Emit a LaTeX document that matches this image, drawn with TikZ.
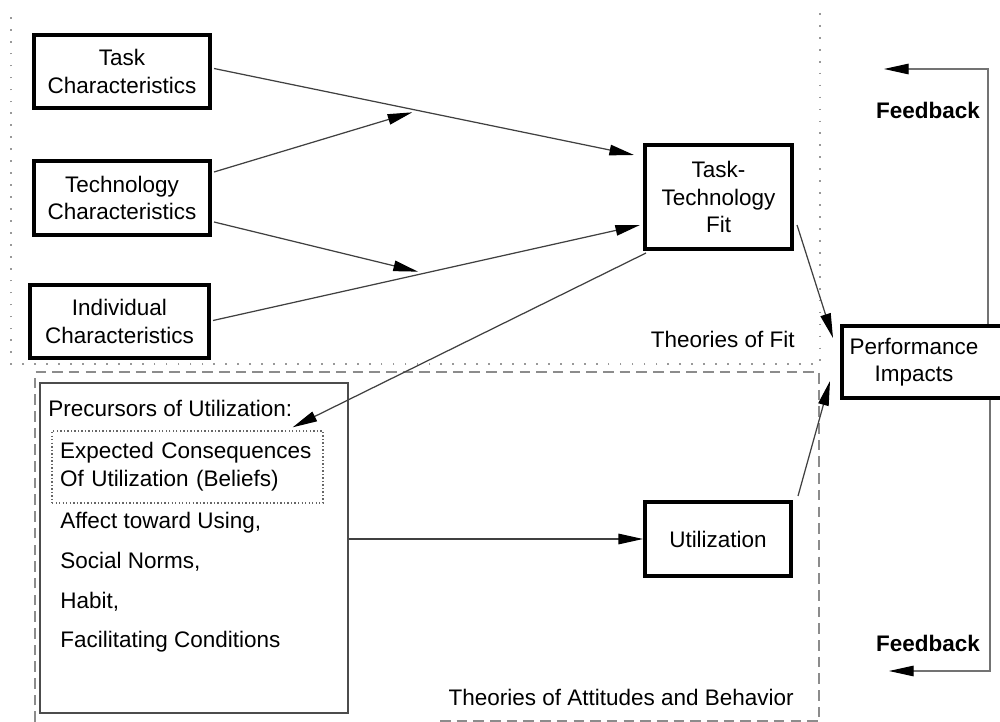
\documentclass[tikz,border=0pt]{standalone}
\usepackage{fontspec}
\setmainfont{Liberation Sans}
\usetikzlibrary{arrows.meta,calc}
\begin{document}
\begin{tikzpicture}[x=0.02cm,y=-0.02cm,
  every node/.style={font=\fontsize{12.8}{15.5}\selectfont},
  bigbox/.style={draw=black, line width=2.3pt, rectangle, align=center, inner sep=0pt},
  arr/.style={draw=black!75, line width=0.7pt, -{Triangle[length=14pt,width=6pt,color=black]}},
  fb/.style={draw=black!55, line width=0.6pt, -{Triangle[length=14pt,width=6pt,color=black]}},
  regiondots/.style={draw=black!40, line width=1pt, dash pattern=on 1pt off 5.8pt},
  regiondash/.style={draw=black!45, line width=0.9pt, dash pattern=on 6pt off 3.5pt},
  item/.style={anchor=base west, inner sep=0pt},
  fbtext/.style={font=\fontsize{12.8}{15}\selectfont\bfseries},
]
\useasboundingbox (0,0) rectangle (1000,722);
\clip (0,0) rectangle (1000,722);
\fill[white] (0,0) rectangle (1000,722);

% theory regions
\draw[regiondots] (820,13) -- (820,364) -- (11,364) -- (11,13);
\draw[regiondash] (35,722) -- (35,372) -- (819,372) -- (819,722);
\draw[regiondash] (440,721) -- (819,721);
\node[item, anchor=base east] (fitlabel) at (795,348) {Theories of Fit};
\node[item, anchor=base east] (attlabel) at (794,705) {Theories of Attitudes and Behavior};

% main constructs
\node[bigbox, minimum width=3.52cm, minimum height=1.46cm] (task) at (122,71.5) {Task\\Characteristics};
\node[bigbox, minimum width=3.52cm, minimum height=1.48cm] (tech) at (122,198) {Technology\\Characteristics};
\node[bigbox, minimum width=3.58cm, minimum height=1.46cm] (indiv) at (119.5,321.5) {Individual\\Characteristics};
\node[bigbox, minimum width=2.94cm, minimum height=2.08cm] (ttf) at (718.5,197) {Task-\\Technology\\Fit};
\node[bigbox, minimum width=2.92cm, minimum height=1.48cm] (util) at (718,539) {Utilization};
\node[bigbox, minimum width=3.4cm, minimum height=1.44cm] (perf) at (927,362) {};
\node[align=center, inner sep=0pt] (perftext) at (914,362) {Performance\\Impacts};

% precursors of utilization
\node[draw=black!70, line width=0.8pt, minimum width=6.16cm, minimum height=6.6cm] (prec) at (194,548) {};
\node[draw=black!60, line width=0.8pt, dash pattern=on 0.8pt off 1.2pt,
      minimum width=5.42cm, minimum height=1.44cm, text width=5.1cm, inner xsep=0.16cm,
      align=left, font=\fontsize{12.8}{16}\selectfont] (beliefs) at (187.5,467)
      {Expected Consequences\\Of Utilization (Beliefs)};
\node[item] (prechead) at (48,417) {Precursors of Utilization:};
\node[item] (affect) at (60,528) {Affect toward Using,};
\node[item] (norms) at (60,568) {Social Norms,};
\node[item] (habit) at (60,608) {Habit,};
\node[item] (facil) at (60,647) {Facilitating Conditions};

% links into task-technology fit
\coordinate (t1) at ($(task.east)+(2,-3)$);
\coordinate (t2) at ($(ttf.west)+(-9,-42)$);
\draw[arr] (t1) -- (t2);
\coordinate (j1) at ($(t1)!0.472!(t2)+(0,3)$);
\draw[arr] ($(tech.east)+(2,-26)$) -- (j1);
\coordinate (i1) at ($(indiv.east)+(2,-1)$);
\coordinate (i2) at ($(ttf.west)+(-3,28)$);
\draw[arr] (i1) -- (i2);
\coordinate (j2) at ($(i1)!0.48!(i2)+(0,-3)$);
\draw[arr] ($(tech.east)+(2,24)$) -- (j2);

% fit to beliefs, utilization and performance
\draw[arr] ($(ttf.south west)+(3,2)$) -- ($(beliefs.north east)+(-31,-3)$);
\draw[arr] ($(ttf.east)+(3,28)$) -- ($(perf.west)+(-7,-24)$);
\draw[arr] ($(util.north east)+(5,-4)$) -- ($(perf.west)+(-10,19)$);
\draw[arr] (prec.east |- util.west) -- (util.west);

% feedback loops
\coordinate (fbtop) at (884,69);
\coordinate (fbbot) at (889,671);
\draw[fb] ($(perf.north west)+(148,0)$) |- (fbtop);
\draw[fb] ($(perf.south west)+(150,0)$) |- (fbbot);
\node[fbtext] (fbtoplabel) at (928,110) {Feedback};
\node[fbtext] (fbbotlabel) at (928,643) {Feedback};
\end{tikzpicture}
\end{document}
